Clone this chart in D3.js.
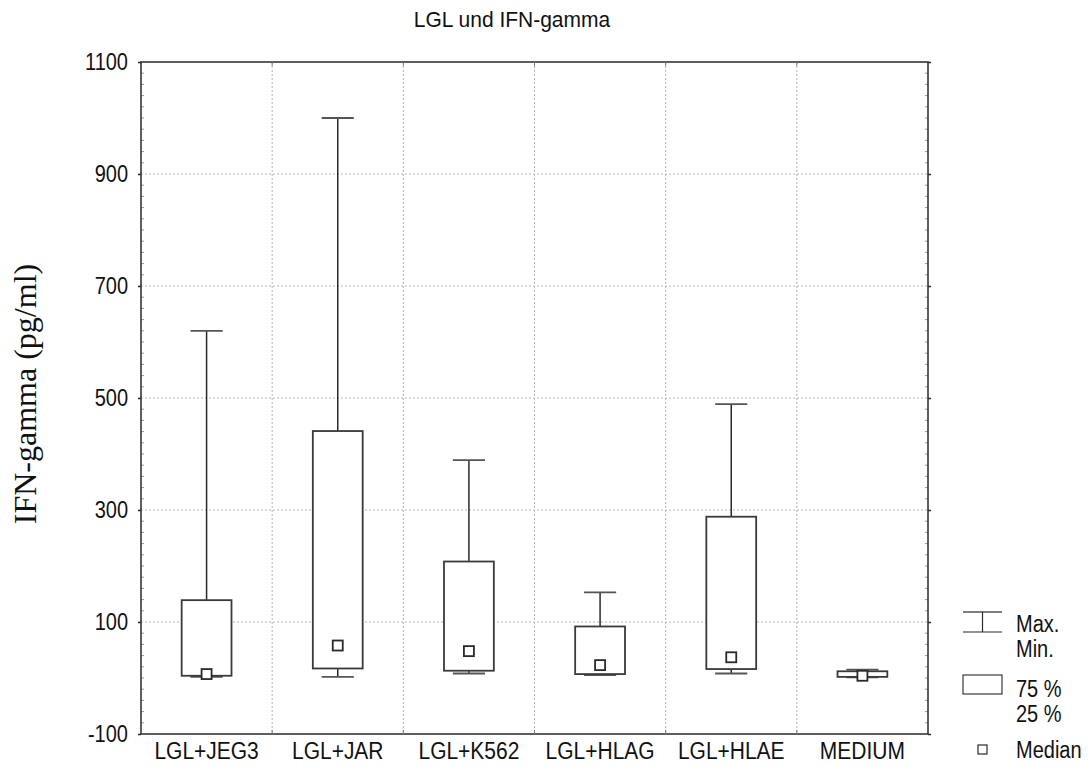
<!DOCTYPE html>
<html>
<head>
<meta charset="utf-8">
<script src="https://cdn.jsdelivr.net/npm/d3@7"></script>
<style>
  html, body { margin: 0; padding: 0; background: #fff; }
  svg { display: block; }
  text { font-family: "Liberation Sans", Arial, sans-serif; fill: #111; }
  text.serif { font-family: "Liberation Serif", "Times New Roman", serif; }
</style>
</head>
<body>
<svg id="chart" width="1091" height="771"></svg>
<script>
// Box-and-whisker summary of IFN-gamma release per co-culture condition
const categories = ["LGL+JEG3", "LGL+JAR", "LGL+K562", "LGL+HLAG", "LGL+HLAE", "MEDIUM"];
const minValues    = [2,   2,    8,   5,   8,   1];
const q1Values     = [4,   17,   13,  7,   16,  2];
const medianValues = [7,   58,   48,  23,  37,  4];
const q3Values     = [139, 441,  208, 92,  288, 12];
const maxValues    = [620, 1000, 389, 153, 489, 15];
const yTicks = [-100, 100, 300, 500, 700, 900, 1100];

const svg = d3.select("#chart");
const W = 1091, H = 771;
const margin = { left: 141, right: W - 928, top: 62, bottom: H - 734 };
const x0 = margin.left, x1 = W - margin.right, y0 = margin.top, y1 = H - margin.bottom;

const x = d3.scaleBand().domain(categories).range([x0, x1]).padding(0);
const y = d3.scaleLinear().domain([-100, 1100]).range([y1, y0]);

const gridColor = "#b4b4b4";
const dark = "#2a2a2a";
const boxW = x.bandwidth() * 0.38;
const capW = x.bandwidth() * 0.245;

// text helper: glyphs are drawn slightly tall
function label(g, tx, ty, str, opts = {}) {
  const sy = opts.sy ?? 1.15;
  return g.append("text")
    .attr("transform", `translate(${tx},${ty}) scale(1,${sy})`)
    .attr("text-anchor", opts.anchor || "start")
    .attr("font-size", opts.size || 20)
    .text(str);
}

// grid
const grid = svg.append("g");
grid.selectAll("line.h").data(yTicks.filter(t => t > -100 && t < 1100)).join("line")
  .attr("x1", x0).attr("x2", x1)
  .attr("y1", d => y(d)).attr("y2", d => y(d))
  .attr("stroke", gridColor).attr("stroke-width", 1).attr("stroke-dasharray", "2,2");
grid.selectAll("line.v").data(categories.slice(1)).join("line")
  .attr("x1", d => x(d)).attr("x2", d => x(d))
  .attr("y1", y0).attr("y2", y1)
  .attr("stroke", gridColor).attr("stroke-width", 1).attr("stroke-dasharray", "2,2");

// minor ticks along the left and right edges
const minor = d3.range(-100, 1101, 20).filter(v => (v + 100) % 200 !== 0);
grid.selectAll("line.ml").data(minor).join("line")
  .attr("x1", x0).attr("x2", x0 + 3).attr("y1", d => y(d)).attr("y2", d => y(d))
  .attr("stroke", "#999");
grid.selectAll("line.mr").data(minor).join("line")
  .attr("x1", x1 - 3).attr("x2", x1).attr("y1", d => y(d)).attr("y2", d => y(d))
  .attr("stroke", "#999");

// frame
svg.append("rect").attr("x", x0).attr("y", y0).attr("width", x1 - x0).attr("height", y1 - y0)
  .attr("fill", "none").attr("stroke", dark).attr("stroke-width", 1.5);

// y axis (left) with major ticks
const yAxis = d3.axisLeft(y).tickValues(yTicks).tickSize(3).tickFormat(d3.format("d"));
const ga = svg.append("g").attr("transform", `translate(${x0},0)`).call(yAxis);
ga.select(".domain").remove();
ga.selectAll(".tick line").attr("stroke", dark).attr("stroke-width", 1.5);
ga.selectAll(".tick text").remove();
ga.selectAll(".tick").each(function(d) {
  label(d3.select(this), -13, 7, String(d), { anchor: "end", size: 20 });
});
// right side major ticks
const gr = svg.append("g").attr("transform", `translate(${x1},0)`)
  .call(d3.axisRight(y).tickValues(yTicks).tickSize(3).tickFormat(""));
gr.select(".domain").remove();
gr.selectAll(".tick line").attr("stroke", dark).attr("stroke-width", 1.5);

// category ticks on bottom and top
const edges = categories.slice(1).map(c => x(c));
svg.append("g").selectAll("line").data(edges).join("line")
  .attr("x1", d => d).attr("x2", d => d).attr("y1", y1).attr("y2", y1 - 4)
  .attr("stroke", "#777");
svg.append("g").selectAll("line").data(edges).join("line")
  .attr("x1", d => d).attr("x2", d => d).attr("y1", y0).attr("y2", y0 + 4)
  .attr("stroke", "#777");

// category labels
const gx = svg.append("g");
categories.forEach(c => {
  label(gx, x(c) + x.bandwidth() / 2, 759, c, { anchor: "middle", size: 21 });
});

// boxes
const data = categories.map((c, i) => ({
  c, min: minValues[i], q1: q1Values[i], med: medianValues[i], q3: q3Values[i], max: maxValues[i]
}));
const gb = svg.append("g").selectAll("g").data(data).join("g")
  .attr("transform", d => `translate(${x(d.c) + x.bandwidth() / 2},0)`);

// whiskers
gb.append("line").attr("x1", 0).attr("x2", 0)
  .attr("y1", d => y(d.q3)).attr("y2", d => y(d.max))
  .attr("stroke", dark).attr("stroke-width", 1.5);
gb.append("line").attr("x1", 0).attr("x2", 0)
  .attr("y1", d => y(d.q1)).attr("y2", d => y(d.min))
  .attr("stroke", dark).attr("stroke-width", 1.5);
gb.append("line").attr("x1", -capW / 2).attr("x2", capW / 2)
  .attr("y1", d => y(d.max)).attr("y2", d => y(d.max))
  .attr("stroke", "#555").attr("stroke-width", 1.8);
gb.append("line").attr("x1", -capW / 2).attr("x2", capW / 2)
  .attr("y1", d => y(d.min)).attr("y2", d => y(d.min))
  .attr("stroke", "#555").attr("stroke-width", 1.8);
// quartile box
gb.append("rect").attr("x", -boxW / 2).attr("width", boxW)
  .attr("y", d => y(d.q3)).attr("height", d => y(d.q1) - y(d.q3))
  .attr("fill", "#fff").attr("stroke", "#3a3a3a").attr("stroke-width", 1.8);
// median marker
gb.append("rect").attr("x", -5).attr("width", 10)
  .attr("y", d => y(d.med) - 5).attr("height", 10)
  .attr("fill", "#fff").attr("stroke", dark).attr("stroke-width", 1.8);

// title
label(svg, 512, 27, "LGL und IFN-gamma", { anchor: "middle", size: 21, sy: 1.05 });

// y axis title
svg.append("text")
  .attr("class", "serif")
  .attr("transform", `translate(36,394) rotate(-90)`)
  .attr("text-anchor", "middle")
  .attr("font-size", 32)
  .text("IFN-gamma (pg/ml)");

// legend
const lg = svg.append("g");
const lx0 = 963, lx1 = 1002, lxc = 982.5;
lg.append("line").attr("x1", lx0).attr("x2", lx1).attr("y1", 612).attr("y2", 612).attr("stroke", "#555").attr("stroke-width", 1.5);
lg.append("line").attr("x1", lx0).attr("x2", lx1).attr("y1", 632).attr("y2", 632).attr("stroke", dark).attr("stroke-width", 1.2);
lg.append("line").attr("x1", lxc).attr("x2", lxc).attr("y1", 612).attr("y2", 632).attr("stroke", dark).attr("stroke-width", 1.2);
label(lg, 1016, 632, "Max.");
label(lg, 1016, 657, "Min.");
lg.append("rect").attr("x", lx0).attr("y", 675).attr("width", lx1 - lx0).attr("height", 19)
  .attr("fill", "#fff").attr("stroke", "#3a3a3a").attr("stroke-width", 1.2);
label(lg, 1016, 697, "75 %");
label(lg, 1016, 722, "25 %");
lg.append("rect").attr("x", lxc - 4.5).attr("y", 745).attr("width", 9).attr("height", 9)
  .attr("fill", "#fff").attr("stroke", dark).attr("stroke-width", 1.2);
label(lg, 1016, 758, "Median");
</script>
</body>
</html>
